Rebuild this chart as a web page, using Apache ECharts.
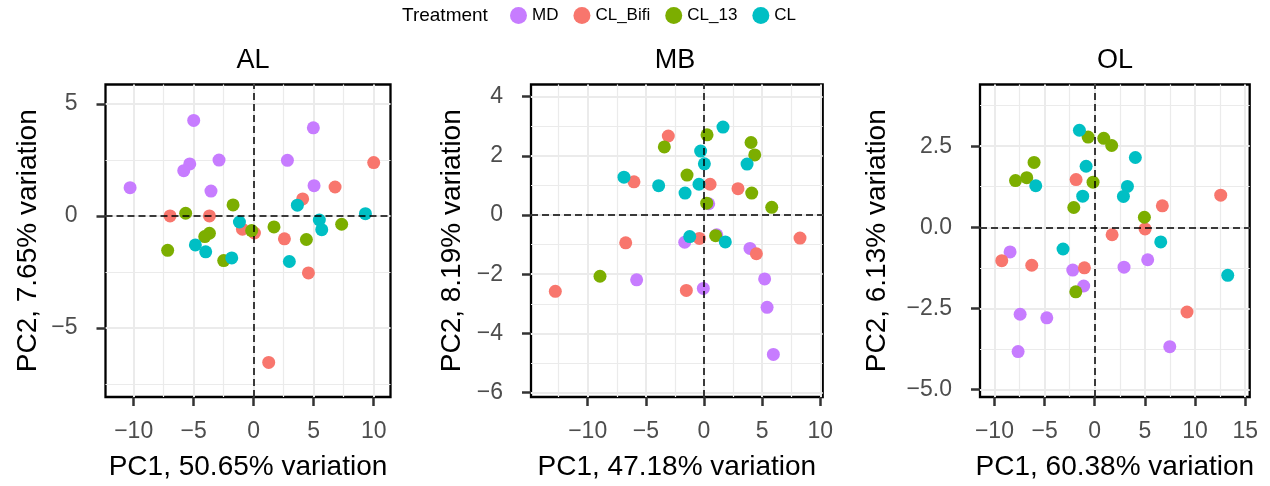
<!DOCTYPE html>
<html>
<head>
<meta charset="utf-8">
<script src="https://cdn.jsdelivr.net/npm/echarts@6/dist/echarts.min.js"></script>
<style>
html,body{margin:0;padding:0;background:#fff;}
#c{width:1270px;height:486px;}
</style>
</head>
<body>
<div id="c"></div>
<script>
// ---------- data ----------
const groups = ['MD', 'CL_Bifi', 'CL_13', 'CL'];
const colors = ['#C77CFF', '#F8766D', '#7CAE00', '#00BFC4'];
const panelTitles = ['AL', 'MB', 'OL'];
const xTitles = ['PC1, 50.65% variation', 'PC1, 47.18% variation', 'PC1, 60.38% variation'];
const yTitles = ['PC2, 7.65% variation', 'PC2, 8.19% variation', 'PC2, 6.13% variation'];

const AL_MD = [[-10.3,1.26],[-5.0,4.26],[-5.33,2.32],[-5.83,2.02],[-2.89,2.49],[-3.56,1.11],[2.81,2.48],[4.97,3.93],[5.03,1.35]];
const AL_CL_Bifi = [[10.0,2.38],[6.78,1.29],[4.08,0.76],[-6.97,0.0],[-3.69,0.0],[-0.94,-0.59],[0.06,-0.76],[2.56,-1.02],[4.56,-2.54],[1.25,-6.53]];
const AL_CL_13 = [[-1.72,0.49],[-5.67,0.12],[-3.69,-0.77],[-4.08,-0.92],[-7.17,-1.53],[-2.5,-1.99],[-0.17,-0.65],[1.69,-0.49],[4.39,-1.05],[7.33,-0.37]];
const AL_CL = [[-1.19,-0.27],[-4.86,-1.29],[-4.0,-1.6],[-1.83,-1.87],[2.97,-2.03],[3.64,0.48],[5.47,-0.18],[5.67,-0.61],[9.31,0.10]];

const MB_MD = [[0.4,0.38],[1.09,-0.67],[-1.66,-0.92],[3.95,-1.13],[-5.79,-2.19],[-0.06,-2.48],[5.21,-2.16],[5.42,-3.12],[5.96,-4.71]];
const MB_CL_Bifi = [[-3.07,2.67],[-6.02,1.12],[0.52,1.04],[2.92,0.89],[-6.73,-0.94],[-0.4,-0.79],[4.5,-1.31],[8.25,-0.78],[-12.78,-2.58],[-1.52,-2.55]];
const MB_CL_13 = [[0.26,2.71],[-3.41,2.30],[4.04,2.45],[4.36,2.03],[-1.46,1.35],[4.1,0.74],[0.23,0.40],[5.82,0.26],[-8.94,-2.07],[1.0,-0.7]];
const MB_CL = [[1.63,2.97],[-0.29,2.16],[0.03,1.73],[3.7,1.72],[-6.88,1.28],[-3.9,0.99],[-0.43,1.04],[-1.63,0.74],[-1.23,-0.73],[1.83,-0.91]];

const OL_MD = [[-8.44,-0.76],[-2.19,-1.32],[-1.1,-1.81],[2.92,-1.23],[5.28,-1.0],[-7.44,-2.68],[-4.78,-2.79],[-7.64,-3.83],[7.48,-3.68]];
const OL_CL_Bifi = [[12.56,0.99],[6.74,0.66],[-1.86,1.47],[1.73,-0.23],[5.02,-0.05],[-9.27,-1.03],[-6.28,-1.17],[-1.03,-1.25],[9.2,-2.61]];
const OL_CL_13 = [[-0.66,2.78],[0.9,2.74],[1.69,2.52],[-6.05,2.0],[-6.78,1.53],[-7.9,1.44],[-0.17,1.39],[-2.09,0.61],[4.95,0.31],[-1.89,-1.99]];
const OL_CL = [[-1.53,2.99],[-0.86,1.88],[-5.88,1.28],[-1.2,0.96],[4.05,2.15],[3.26,1.26],[2.86,0.95],[6.58,-0.45],[-3.16,-0.67],[13.26,-1.48]];

// axis ranges and tick labels
const xRanges = [[-12.35, 11.4], [-14.87, 10.2], [-11.44, 15.45]];
const yRanges = [[-8.07, 5.86], [-6.15, 4.41], [-5.23, 4.40]];
const xMajor = [[-10,-5,0,5,10], [-10,-5,0,5,10], [-10,-5,0,5,10,15]];
const xMinor = [[-7.5,-2.5,2.5,7.5], [-12.5,-7.5,-2.5,2.5,7.5], [-7.5,-2.5,2.5,7.5,12.5]];
const yMajor = [[-5,0,5], [-6,-4,-2,0,2,4], [-5,-2.5,0,2.5]];
const yMinor = [[-7.5,-2.5,2.5], [-5,-3,-1,1,3], [-3.75,-1.25,1.25,3.75]];
const yDecimals = [0, 0, 1];

const panelData = [
  [AL_MD, AL_CL_Bifi, AL_CL_13, AL_CL],
  [MB_MD, MB_CL_Bifi, MB_CL_13, MB_CL],
  [OL_MD, OL_CL_Bifi, OL_CL_13, OL_CL]
];

// ---------- layout ----------
const FONT = '"Liberation Sans", Arial, Helvetica, sans-serif';
const gridLefts = [105.5, 531, 980];
const gridWidths = [285, 291.7, 269.7];
const gridTop = 84.5, gridHeight = 313.3;
const yNameGaps = [63, 65, 89];
const titleCenters = [253, 675, 1115];

function fmt(v, d) {
  const s = Math.abs(v).toFixed(d);
  return (v < 0 ? '\u2212' : '') + s;
}

const grids = [], xAxes = [], yAxes = [], series = [], graphics = [];
for (let p = 0; p < 3; p++) {
  grids.push({
    left: gridLefts[p], top: gridTop, width: gridWidths[p], height: gridHeight,
    show: true, borderColor: '#000', borderWidth: 2.3, backgroundColor: '#fff', containLabel: false
  });
  const d = yDecimals[p];
  // major x
  xAxes.push({
    type: 'value', gridIndex: p, min: xRanges[p][0], max: xRanges[p][1], position: 'bottom',
    axisLine: { show: false, onZero: false },
    axisTick: { show: true, length: 9, customValues: xMajor[p], lineStyle: { color: '#333', width: 2.5 } },
    axisLabel: { customValues: xMajor[p], formatter: v => fmt(v, 0), fontSize: 23, color: '#4d4d4d', fontFamily: FONT, margin: 23 },
    splitLine: { show: true, lineStyle: { color: '#ebebeb', width: 2 } },
    name: xTitles[p], nameLocation: 'middle', nameGap: 56,
    nameTextStyle: { fontSize: 28, color: '#000', fontFamily: FONT }
  });
  // minor x
  xAxes.push({
    type: 'value', gridIndex: p, min: xRanges[p][0], max: xRanges[p][1], position: 'bottom',
    axisLine: { show: false, onZero: false },
    axisTick: { show: false, customValues: xMinor[p] },
    axisLabel: { show: false },
    splitLine: { show: true, lineStyle: { color: '#ebebeb', width: 1.2 } }
  });
  yAxes.push({
    type: 'value', gridIndex: p, min: yRanges[p][0], max: yRanges[p][1], position: 'left',
    axisLine: { show: false, onZero: false },
    axisTick: { show: true, length: 9, customValues: yMajor[p], lineStyle: { color: '#333', width: 2.5 } },
    axisLabel: { customValues: yMajor[p], formatter: v => fmt(v, d), fontSize: 23, color: '#4d4d4d', fontFamily: FONT, margin: 28 },
    splitLine: { show: true, lineStyle: { color: '#ebebeb', width: 2 } },
    name: yTitles[p], nameLocation: 'middle', nameGap: yNameGaps[p], nameRotate: 90,
    nameTextStyle: { fontSize: 28, color: '#000', fontFamily: FONT }
  });
  yAxes.push({
    type: 'value', gridIndex: p, min: yRanges[p][0], max: yRanges[p][1], position: 'left',
    axisLine: { show: false, onZero: false },
    axisTick: { show: false, customValues: yMinor[p] },
    axisLabel: { show: false },
    splitLine: { show: true, lineStyle: { color: '#ebebeb', width: 1.2 } }
  });
  for (let g = 0; g < 4; g++) {
    const s = {
      type: 'scatter', name: groups[g], xAxisIndex: 2 * p, yAxisIndex: 2 * p,
      data: panelData[p][g], symbolSize: 13,
      itemStyle: { color: colors[g], opacity: 1 },
      emphasis: { disabled: true }, animation: false
    };
    if (g === 0) {
      s.markLine = {
        silent: true, symbol: ['none', 'none'], animation: false,
        label: { show: false },
        lineStyle: { type: [7, 4], color: '#000', width: 1.5 },
        data: [{ xAxis: 0 }, { yAxis: 0 }]
      };
    }
    series.push(s);
  }
  graphics.push({
    type: 'text', x: titleCenters[p], y: 47,
    style: { text: panelTitles[p], fill: '#000', font: '27px ' + FONT, align: 'center', verticalAlign: 'top' }
  });
}
graphics.push({
  type: 'text', x: 402, y: 6,
  style: { text: 'Treatment', fill: '#000', font: '19px ' + FONT, align: 'left', verticalAlign: 'top' }
});

const chart = echarts.init(document.getElementById('c'), null, { renderer: 'canvas' });
chart.setOption({
  animation: false,
  backgroundColor: '#fff',
  textStyle: { fontFamily: FONT },
  grid: grids,
  xAxis: xAxes,
  yAxis: yAxes,
  legend: {
    data: groups, left: 510, top: 7, padding: 0, orient: 'horizontal',
    icon: 'circle', itemWidth: 17, itemHeight: 17, itemGap: 15,
    textStyle: { fontSize: 17, color: '#000', fontFamily: FONT },
    selectedMode: false
  },
  graphic: graphics,
  series: series
});
</script>
</body>
</html>
